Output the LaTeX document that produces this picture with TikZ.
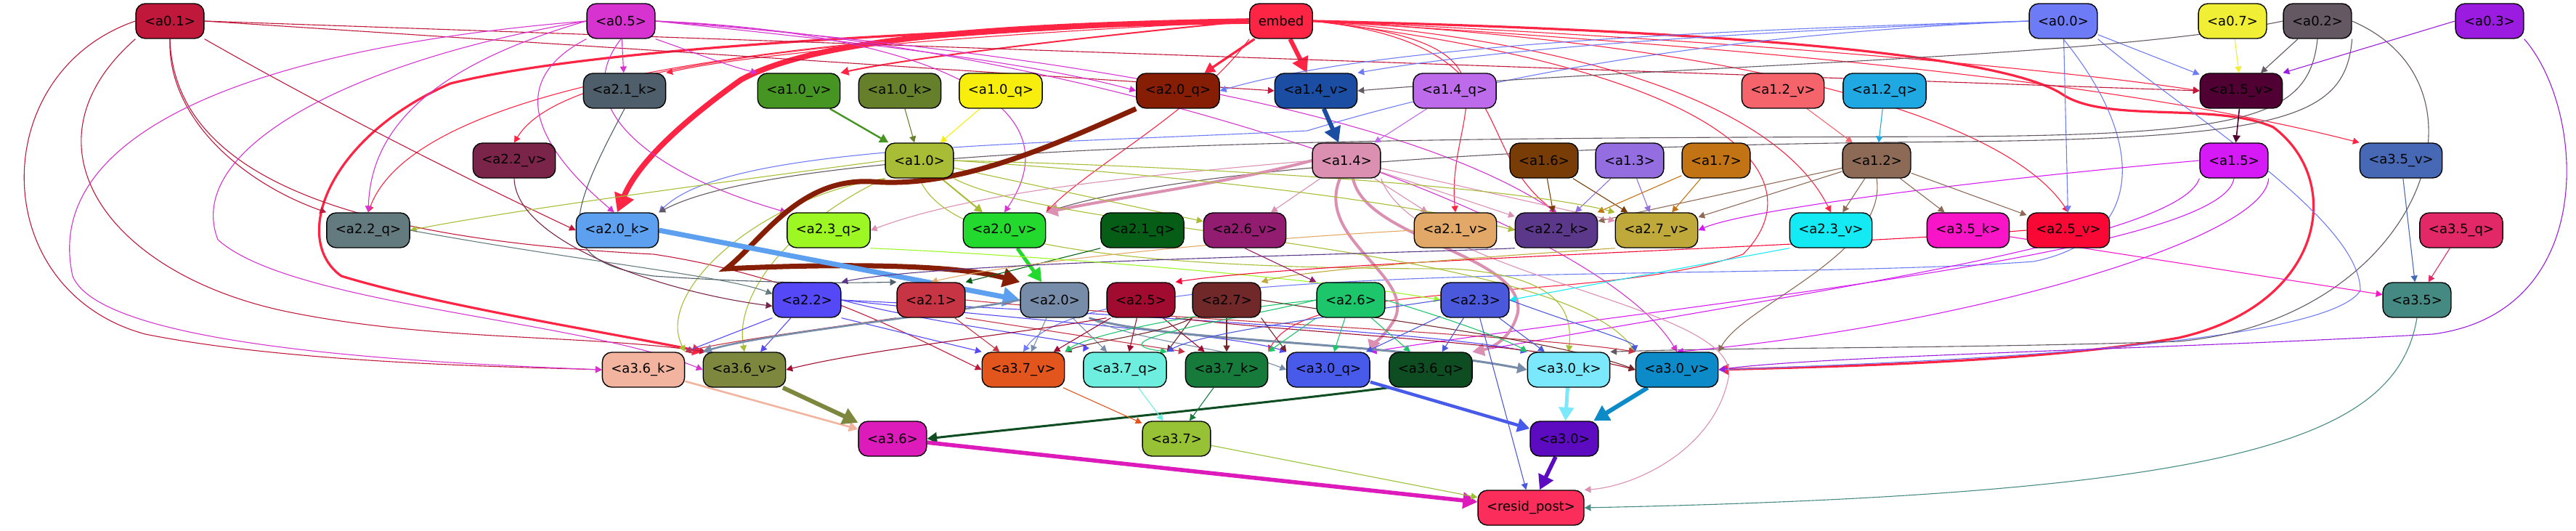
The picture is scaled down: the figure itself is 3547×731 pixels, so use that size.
\documentclass[tikz,border=0pt]{standalone}
\usepackage{fontspec}
\setmainfont{DejaVu Sans}
\usepackage{xcolor}
\usepackage{tikz}
\usetikzlibrary{arrows.meta, backgrounds}

\definecolor{ca01}{HTML}{C0183A}
\definecolor{ca05}{HTML}{D633D0}
\definecolor{cemb}{HTML}{FE2443}
\definecolor{ca00}{HTML}{6E7BF7}
\definecolor{ca07}{HTML}{F0EE35}
\definecolor{ca02}{HTML}{645862}
\definecolor{ca03}{HTML}{9B1BE0}
\definecolor{ca21k}{HTML}{4E5E6A}
\definecolor{ca10v}{HTML}{469522}
\definecolor{ca10k}{HTML}{667F2A}
\definecolor{ca10q}{HTML}{F7EE0E}
\definecolor{ca20q}{HTML}{861E05}
\definecolor{ca14v}{HTML}{1B4EA2}
\definecolor{ca14q}{HTML}{BE6BEB}
\definecolor{ca12v}{HTML}{F5646B}
\definecolor{ca12q}{HTML}{1FA8E2}
\definecolor{ca15v}{HTML}{510034}
\definecolor{ca22v}{HTML}{7B2449}
\definecolor{ca10}{HTML}{A8BD35}
\definecolor{ca14}{HTML}{DB8FB1}
\definecolor{ca16}{HTML}{783C06}
\definecolor{ca13}{HTML}{946EE1}
\definecolor{ca17}{HTML}{C27313}
\definecolor{ca12}{HTML}{8C6A55}
\definecolor{ca15}{HTML}{D51AF7}
\definecolor{ca35v}{HTML}{4768B5}
\definecolor{ca22q}{HTML}{637A7E}
\definecolor{ca20k}{HTML}{5DA0F0}
\definecolor{ca23q}{HTML}{9CF723}
\definecolor{ca20v}{HTML}{24D92D}
\definecolor{ca21q}{HTML}{065E16}
\definecolor{ca26v}{HTML}{921C6F}
\definecolor{ca21v}{HTML}{E2A867}
\definecolor{ca22k}{HTML}{5C388B}
\definecolor{ca27v}{HTML}{C0A93B}
\definecolor{ca23v}{HTML}{13EAF3}
\definecolor{ca35k}{HTML}{F815C8}
\definecolor{ca25v}{HTML}{F90835}
\definecolor{ca35q}{HTML}{E32868}
\definecolor{ca22}{HTML}{5549F7}
\definecolor{ca21}{HTML}{C73443}
\definecolor{ca20}{HTML}{778CA8}
\definecolor{ca25}{HTML}{A20B30}
\definecolor{ca27}{HTML}{712829}
\definecolor{ca26}{HTML}{1DC56B}
\definecolor{ca23}{HTML}{4A58DB}
\definecolor{ca35}{HTML}{458A82}
\definecolor{ca36k}{HTML}{F2B49F}
\definecolor{ca36v}{HTML}{7E873E}
\definecolor{ca37v}{HTML}{E2551D}
\definecolor{ca37q}{HTML}{6DEEDE}
\definecolor{ca37k}{HTML}{167A3B}
\definecolor{ca30q}{HTML}{475AEA}
\definecolor{ca36q}{HTML}{0D4D21}
\definecolor{ca30k}{HTML}{7BE8FB}
\definecolor{ca30v}{HTML}{0C8BC8}
\definecolor{ca36}{HTML}{DD1BBA}
\definecolor{ca37}{HTML}{98C235}
\definecolor{ca30}{HTML}{5D0BC0}
\definecolor{cres}{HTML}{FB2E5B}

\begin{document}
\begin{tikzpicture}[
  x=0.5pt, y=-0.5pt,
  feat/.style  = {rectangle, draw=black, line width=0.7pt, rounded corners=6.5pt, minimum height=24pt, inner xsep=6pt, inner ysep=2pt, font=\fontsize{9}{11}\selectfont, text=black},
  arrow/.style = {-{Triangle[length=3pt 2.5, width=3pt 2.8]}, line width=0.55pt}
]
\useasboundingbox (0,0) rectangle (3547,731);

%% ROW 0: inputs
\node[feat, fill=ca01] (a01) at (234,29)  {<a0.1>};
\node[feat, fill=ca05] (a05) at (855,29)  {<a0.5>};
\node[feat, fill=cemb] (emb) at (1764,29) {embed};
\node[feat, fill=ca00] (a00) at (2841,29) {<a0.0>};
\node[feat, fill=ca07] (a07) at (3074,29) {<a0.7>};
\node[feat, fill=ca02] (a02) at (3191,29) {<a0.2>};
\node[feat, fill=ca03] (a03) at (3428,29) {<a0.3>};

%% ROW 1
\node[feat, fill=ca21k] (a21k) at (860,125)  {<a2.1\_k>};
\node[feat, fill=ca10v] (a10v) at (1100,125) {<a1.0\_v>};
\node[feat, fill=ca10k] (a10k) at (1239,125) {<a1.0\_k>};
\node[feat, fill=ca10q] (a10q) at (1378,125) {<a1.0\_q>};
\node[feat, fill=ca20q] (a20q) at (1622,125) {<a2.0\_q>};
\node[feat, fill=ca14v] (a14v) at (1812,125) {<a1.4\_v>};
\node[feat, fill=ca14q] (a14q) at (2003,125) {<a1.4\_q>};
\node[feat, fill=ca12v] (a12v) at (2455,125) {<a1.2\_v>};
\node[feat, fill=ca12q] (a12q) at (2595,125) {<a1.2\_q>};
\node[feat, fill=ca15v] (a15v) at (3086,125) {<a1.5\_v>};

%% ROW 2
\node[feat, fill=ca22v] (a22v) at (708,221)  {<a2.2\_v>};
\node[feat, fill=ca10]  (a10)  at (1266,221) {<a1.0>};
\node[feat, fill=ca14]  (a14)  at (1854,221) {<a1.4>};
\node[feat, fill=ca16]  (a16)  at (2126,221) {<a1.6>};
\node[feat, fill=ca13]  (a13)  at (2244,221) {<a1.3>};
\node[feat, fill=ca17]  (a17)  at (2363,221) {<a1.7>};
\node[feat, fill=ca12]  (a12)  at (2584,221) {<a1.2>};
\node[feat, fill=ca15]  (a15)  at (3076,221) {<a1.5>};
\node[feat, fill=ca35v] (a35v) at (3306,221) {<a3.5\_v>};

%% ROW 3
\node[feat, fill=ca22q] (a22q) at (507,317)  {<a2.2\_q>};
\node[feat, fill=ca20k] (a20k) at (850,317)  {<a2.0\_k>};
\node[feat, fill=ca23q] (a23q) at (1141,317) {<a2.3\_q>};
\node[feat, fill=ca20v] (a20v) at (1383,317) {<a2.0\_v>};
\node[feat, fill=ca21q] (a21q) at (1573,317) {<a2.1\_q>};
\node[feat, fill=ca26v] (a26v) at (1714,317) {<a2.6\_v>};
\node[feat, fill=ca21v] (a21v) at (2004,317) {<a2.1\_v>};
\node[feat, fill=ca22k] (a22k) at (2143,317) {<a2.2\_k>};
\node[feat, fill=ca27v] (a27v) at (2281,317) {<a2.7\_v>};
\node[feat, fill=ca23v] (a23v) at (2521,317) {<a2.3\_v>};
\node[feat, fill=ca35k] (a35k) at (2710,317) {<a3.5\_k>};
\node[feat, fill=ca25v] (a25v) at (2848,317) {<a2.5\_v>};
\node[feat, fill=ca35q] (a35q) at (3389,317) {<a3.5\_q>};

%% ROW 4
\node[feat, fill=ca22] (a22) at (1111,413) {<a2.2>};
\node[feat, fill=ca21] (a21) at (1282,413) {<a2.1>};
\node[feat, fill=ca20] (a20) at (1452,413) {<a2.0>};
\node[feat, fill=ca25] (a25) at (1571,413) {<a2.5>};
\node[feat, fill=ca27] (a27) at (1689,413) {<a2.7>};
\node[feat, fill=ca26] (a26) at (1860,413) {<a2.6>};
\node[feat, fill=ca23] (a23) at (2031,413) {<a2.3>};
\node[feat, fill=ca35] (a35) at (3328,413) {<a3.5>};

%% ROW 5
\node[feat, fill=ca36k] (a36k) at (886,509)  {<a3.6\_k>};
\node[feat, fill=ca36v] (a36v) at (1025,509) {<a3.6\_v>};
\node[feat, fill=ca37v] (a37v) at (1409,509) {<a3.7\_v>};
\node[feat, fill=ca37q] (a37q) at (1549,509) {<a3.7\_q>};
\node[feat, fill=ca37k] (a37k) at (1689,509) {<a3.7\_k>};
\node[feat, fill=ca30q] (a30q) at (1829,509) {<a3.0\_q>};
\node[feat, fill=ca36q] (a36q) at (1970,509) {<a3.6\_q>};
\node[feat, fill=ca30k] (a30k) at (2160,509) {<a3.0\_k>};
\node[feat, fill=ca30v] (a30v) at (2309,509) {<a3.0\_v>};

%% ROW 6 / output
\node[feat, fill=ca36] (a36) at (1229,604) {<a3.6>};
\node[feat, fill=ca37] (a37) at (1620,604) {<a3.7>};
\node[feat, fill=ca30] (a30) at (2154,604) {<a3.0>};
\node[feat, fill=cres] (resid) at (2108,699) {<resid\_post>};

\begin{pgfonlayer}{background}
%% embed
\draw[arrow, cemb, line width=3pt] (emb) -- (a14v);
\draw[arrow, cemb, line width=1.6pt] (emb) -- (a20q);
\draw[arrow, cemb, line width=3.8pt] (emb.west) .. controls (1350,35) and (1120,55) .. (1020,110) .. controls (950,160) and (880,220) .. (a20k.north);
\draw[arrow, cemb, line width=1.6pt] (emb.west) .. controls (1200,45) and (800,70) .. (620,115) .. controls (450,190) and (400,330) .. (470,380) .. controls (600,420) and (850,460) .. (a36v.north west);
\draw[arrow, cemb, line width=1.6pt] (emb.east) .. controls (2300,40) and (2750,70) .. (2840,130) .. controls (2900,170) and (3050,140) .. (3130,175) .. controls (3230,250) and (3200,420) .. (3000,465) .. controls (2800,500) and (2500,505) .. (a30v.east);
\draw[arrow, cemb] (emb.east) .. controls (2300,50) and (2800,90) .. (a15v.west);
\draw[arrow, cemb] (emb.east) .. controls (2500,70) and (2950,120) .. (a35v.north west);
\draw[arrow, cemb] (emb.east) .. controls (2400,60) and (2760,160) .. (a25v.north);
\draw[arrow, cemb] (emb.east) .. controls (2200,60) and (2450,150) .. (a23v.north);
\draw[arrow, cemb] (emb.east) .. controls (2120,60) and (1990,150) .. (a21v.north);
\draw[arrow, cemb] (emb.east) .. controls (2100,60) and (2020,200) .. (a22k.north);
\draw[arrow, cemb, line width=1pt] (emb.west) .. controls (1500,50) and (1250,80) .. (a10v.north east);
\draw[arrow, cemb] (emb.west) .. controls (1400,45) and (1050,70) .. (a21k.north east);
\draw[arrow, cemb] (emb.west) .. controls (900,50) and (560,150) .. (a22q.north);
\draw[arrow, cemb] (emb.west) .. controls (1000,55) and (760,110) .. (a22v.north);
\draw[arrow, cemb] (emb.south west) .. controls (1650,150) and (1500,230) .. (a20v.north east);
\draw[arrow, cemb] (emb.east) .. controls (2400,100) and (2500,250) .. (2400,350) .. controls (2200,420) and (1800,380) .. (a37k.north east);

%% a0.1
\draw[arrow, ca01] (a01.east) -- (a15v.west);
\draw[arrow, ca01] (a01.east) -- (a14v.west);
\draw[arrow, ca01] (a01.south) .. controls (230,160) and (330,250) .. (a22q.north west);
\draw[arrow, ca01] (a01.south east) .. controls (450,150) and (650,250) .. (a20k.west);
\draw[arrow, ca01] (a01.west) .. controls (-20,100) and (-20,400) .. (200,460) .. controls (400,500) and (700,505) .. (a36k.west);
\draw[arrow, ca01] (a01.south west) .. controls (20,200) and (150,380) .. (400,430) .. controls (600,470) and (800,460) .. (a36v.155);
\draw[arrow, ca01] (a01.south) .. controls (240,250) and (500,330) .. (900,350) .. controls (1100,380) and (1250,460) .. (a37v.west);

%% a0.5
\draw[arrow, ca05] (a05) -- (a21k);
\draw[arrow, ca05] (a05.south west) .. controls (680,120) and (760,220) .. (a20k.100);
\draw[arrow, ca05] (a05.west) .. controls (560,100) and (510,200) .. (a22q.north);
\draw[arrow, ca05] (a05.west) .. controls (300,70) and (60,200) .. (100,380) .. controls (140,480) and (600,500) .. (a36k.west);
\draw[arrow, ca05] (a05.west) .. controls (500,80) and (250,200) .. (300,330) .. controls (400,420) and (800,440) .. (a36v.west);
\draw[arrow, ca05] (a05.south) .. controls (780,150) and (900,240) .. (a23q.north west);
\draw[arrow, ca05] (a05.east) .. controls (1100,50) and (1400,80) .. (a20q.west);
\draw[arrow, ca05] (a05.east) .. controls (1200,40) and (1500,120) .. (a20v.north);
\draw[arrow, ca05] (a05.south east) .. controls (950,70) and (1000,90) .. (a10v.north west);
\draw[arrow, ca05] (a05.east) .. controls (1300,60) and (1900,130) .. (a22k.north);
\draw[arrow, ca05] (a05.east) .. controls (1500,60) and (2200,300) .. (a30v.north);

%% a0.0
\draw[arrow, ca00] (a00.west) .. controls (2500,40) and (2100,60) .. (a14v.north east);
\draw[arrow, ca00] (a00.west) .. controls (2400,40) and (1900,60) .. (a20q.east);
\draw[arrow, ca00] (a00) -- (a15v);
\draw[arrow, ca00] (a00) -- (a25v);
\draw[arrow, ca00] (a00.west) .. controls (2300,50) and (2000,120) .. (1800,180) .. controls (1400,200) and (1000,200) .. (a20k.north east);
\draw[arrow, ca00] (a00.south east) .. controls (3000,150) and (3250,300) .. (3250,400) .. controls (3200,480) and (2600,500) .. (a30v.east);
\draw[arrow, ca00] (a00.south) .. controls (2960,200) and (2950,330) .. (2800,360) .. controls (2400,390) and (1500,350) .. (a37v.north);

%% a0.2, a0.3, a0.7
\draw[arrow, ca02] (a02) -- (a15v);
\draw[arrow, ca02] (a02.west) .. controls (2900,80) and (2300,90) .. (a14v.east);
\draw[arrow, ca02] (a02.south) .. controls (3180,160) and (3100,185) .. (2700,188) .. controls (2000,190) and (1100,190) .. (a20k.north east);
\draw[arrow, ca02] (a02.south east) .. controls (3230,160) and (3150,190) .. (2700,195) .. controls (2000,200) and (1600,240) .. (a20v.north east);
\draw[arrow, ca02] (a02.east) .. controls (3450,120) and (3330,440) .. (3000,470) .. controls (2700,480) and (2400,478) .. (a30k.north east);
\draw[arrow, ca03] (a03.west) -- (a15v.north east);
\draw[arrow, ca03] (a03.south east) .. controls (3560,150) and (3580,430) .. (3350,460) .. controls (3000,480) and (2500,490) .. (a30v.east);
\draw[arrow, ca07] (a07) -- (a15v);

%% layer 1
\draw[arrow, ca15v, line width=0.8pt] (a15v) -- (a15);
\draw[arrow, ca15] (a15.west) .. controls (2700,250) and (2400,290) .. (a27v.east);
\draw[arrow, ca15] (a15.south west) .. controls (3000,330) and (2500,400) .. (a36q.north east);
\draw[arrow, ca15] (a15.south) .. controls (3060,350) and (2300,420) .. (a30q.north east);
\draw[arrow, ca15] (a15.south east) .. controls (3120,330) and (2700,450) .. (a30v.north);
\draw[arrow, ca12v] (a12v) -- (a12);
\draw[arrow, ca12q] (a12q) -- (a12);
\draw[arrow, ca12] (a12) -- (a23v);
\draw[arrow, ca12] (a12) -- (a25v);
\draw[arrow, ca12] (a12) -- (a35k);
\draw[arrow, ca12] (a12) -- (a27v);
\draw[arrow, ca12] (a12) -- (a22k);
\draw[arrow, ca12] (a12.south) .. controls (2600,350) and (2400,420) .. (a30v.north east);
\draw[arrow, ca14q] (a14q) -- (a14);
\draw[arrow, ca14v, line width=3pt] (a14v) -- (a14);
\draw[arrow, ca14] (a14) -- (a21v);
\draw[arrow, ca14] (a14) -- (a22k);
\draw[arrow, ca14] (a14) -- (a27v);
\draw[arrow, ca14] (a14) -- (a26v);
\draw[arrow, ca14, line width=2pt] (a14.west) .. controls (1700,250) and (1550,270) .. (a20v.north east);
\draw[arrow, ca14] (a14.west) .. controls (1600,240) and (1350,260) .. (a23q.east);
\draw[arrow, ca14, line width=2pt] (a14.250) .. controls (1810,330) and (1950,380) .. (1920,440) .. controls (1905,465) and (1890,475) .. (a30q.north east);
\draw[arrow, ca14, line width=2pt] (a14.290) .. controls (1880,330) and (2100,350) .. (2090,430) .. controls (2080,470) and (2050,480) .. (a36q.north east);
\draw[arrow, ca14] (a14.south east) .. controls (1950,380) and (2400,420) .. (2380,520) .. controls (2360,620) and (2250,670) .. (resid.north east);
\draw[arrow, ca16] (a16) -- (a22k);
\draw[arrow, ca16] (a16) -- (a27v);
\draw[arrow, ca13] (a13) -- (a22k);
\draw[arrow, ca13] (a13) -- (a27v);
\draw[arrow, ca17] (a17) -- (a22k);
\draw[arrow, ca17] (a17) -- (a27v);
\draw[arrow, ca10v, line width=1.2pt] (a10v) -- (a10);
\draw[arrow, ca10k] (a10k) -- (a10);
\draw[arrow, ca10q] (a10q) -- (a10);
\draw[arrow, ca10, line width=1pt] (a10) -- (a20v);
\draw[arrow, ca10] (a10) -- (a26v);
\draw[arrow, ca10] (a10.west) .. controls (1000,250) and (700,290) .. (a22q.east);
\draw[arrow, ca10] (a10.east) .. controls (1600,240) and (1900,270) .. (a22k.west);
\draw[arrow, ca10] (a10.east) .. controls (1700,230) and (2100,260) .. (a27v.north west);
\draw[arrow, ca10] (a10.south west) .. controls (1100,300) and (1010,400) .. (a36v.north);
\draw[arrow, ca10] (a10.south west) .. controls (1050,270) and (900,400) .. (a36k.north east);
\draw[arrow, ca10] (a10.south) .. controls (1300,330) and (1500,370) .. (2000,370) .. controls (2150,380) and (2165,430) .. (a30k.north);
\draw[arrow, ca10] (a10.south east) .. controls (1450,320) and (2150,340) .. (a30v.north west);

%% layer 2 inputs
\draw[arrow, ca20q, line width=3.5pt] (a20q.south west) .. controls (1450,200) and (1320,260) .. (1200,250) .. controls (1100,245) and (1050,330) .. (1000,370) .. controls (1100,365) and (1300,360) .. (a20.north west);
\draw[arrow, ca20k, line width=3.5pt] (a20k.east) -- (a20.west);
\draw[arrow, ca20v, line width=2.5pt] (a20v) -- (a20);
\draw[arrow, ca21q] (a21q.south west) -- (a21.north east);
\draw[arrow, ca21k] (a21k.south) .. controls (780,300) and (760,360) .. (900,380) .. controls (1050,390) and (1150,390) .. (a21.north west);
\draw[arrow, ca21v] (a21v.west) .. controls (1700,330) and (1400,360) .. (a21.north);
\draw[arrow, ca22q] (a22q.east) .. controls (800,360) and (1000,380) .. (a22.170);
\draw[arrow, ca22v] (a22v.south) .. controls (710,330) and (900,400) .. (a22.190);
\draw[arrow, ca22k] (a22k.south west) .. controls (1900,350) and (1300,360) .. (a22.north east);
\draw[arrow, ca23q] (a23q.south east) .. controls (1400,350) and (1800,380) .. (a23.west);
\draw[arrow, ca23v] (a23v.south west) -- (a23.east);
\draw[arrow, ca25v] (a25v.west) .. controls (2500,340) and (1800,360) .. (a25.north east);
\draw[arrow, ca27v] (a27v.south west) .. controls (2100,350) and (1800,370) .. (a27.north east);
\draw[arrow, ca26v] (a26v.south) -- (a26.north west);
\draw[arrow, ca35v] (a35v) -- (a35);
\draw[arrow, ca35q] (a35q) -- (a35);
\draw[arrow, ca35k] (a35k) -- (a35);

%% layer 2 to layer 3
\draw[arrow, ca22] (a22) -- (a36v);
\draw[arrow, ca22] (a22.south west) -- (a36k.north east);
\draw[arrow, ca22] (a22.south east) -- (a37v.north west);
\draw[arrow, ca22] (a22.east) .. controls (1300,450) and (1500,470) .. (a37q.north west);
\draw[arrow, ca22] (a22.east) .. controls (1400,440) and (1700,460) .. (a30q.north west);
\draw[arrow, ca22] (a22.east) .. controls (1500,430) and (2000,460) .. (a30k.north west);
\draw[arrow, ca21] (a21) -- (a37v);
\draw[arrow, ca21] (a21.south west) .. controls (1150,450) and (1000,470) .. (a36k.north east);
\draw[arrow, ca21] (a21.south east) -- (a37k.north west);
\draw[arrow, ca21] (a21.east) .. controls (1600,440) and (2100,460) .. (a30v.north west);
\draw[arrow, ca20, line width=1.3pt] (a20.west) .. controls (1250,440) and (1050,460) .. (a36v.north west);
\draw[arrow, ca20] (a20) -- (a37v);
\draw[arrow, ca20] (a20) -- (a37q);
\draw[arrow, ca20, line width=1.5pt] (a20.south east) .. controls (1600,470) and (1900,470) .. (a30k.west);
\draw[arrow, ca20] (a20.south east) .. controls (1560,470) and (1700,480) .. (a30q.west);
\draw[arrow, ca25] (a25.south west) .. controls (1400,460) and (1200,480) .. (a36v.east);
\draw[arrow, ca25] (a25) -- (a37v);
\draw[arrow, ca25] (a25) -- (a37q);
\draw[arrow, ca25] (a25) -- (a37k);
\draw[arrow, ca25] (a25.south east) .. controls (1800,460) and (2100,470) .. (a30v.west);
\draw[arrow, ca27] (a27) -- (a37k);
\draw[arrow, ca27] (a27.south west) -- (a37q.north east);
\draw[arrow, ca27] (a27.south west) .. controls (1600,460) and (1500,470) .. (a37v.north east);
\draw[arrow, ca27] (a27.south east) -- (a30q.north west);
\draw[arrow, ca27] (a27.east) .. controls (1900,440) and (2150,470) .. (a30v.west);
\draw[arrow, ca26] (a26) -- (a30q);
\draw[arrow, ca26] (a26) -- (a36q);
\draw[arrow, ca26] (a26.east) .. controls (2000,440) and (2080,470) .. (a30k.north west);
\draw[arrow, ca26] (a26.south west) -- (a37k.north east);
\draw[arrow, ca26] (a26.west) .. controls (1700,440) and (1500,470) .. (a37q.north east);
\draw[arrow, ca26] (a26.west) .. controls (1650,430) and (1500,460) .. (a37v.north east);
\draw[arrow, ca23] (a23) -- (a30q);
\draw[arrow, ca23] (a23) -- (a36q);
\draw[arrow, ca23] (a23) -- (a30k);
\draw[arrow, ca23] (a23.east) .. controls (2150,440) and (2250,470) .. (a30v.north west);
\draw[arrow, ca23] (a23) -- (resid);
\draw[arrow, ca23] (a23.west) .. controls (1800,440) and (1650,460) .. (a37q.north east);

%% layer 3 to output
\draw[arrow, ca36k, line width=1.3pt] (a36k) -- (a36);
\draw[arrow, ca36v, line width=3pt] (a36v) -- (a36);
\draw[arrow, ca36q, line width=1.5pt] (a36q.south west) .. controls (1700,560) and (1400,590) .. (a36.east);
\draw[arrow, ca37v] (a37v) -- (a37);
\draw[arrow, ca37q] (a37q) -- (a37);
\draw[arrow, ca37k] (a37k) -- (a37);
\draw[arrow, ca30q, line width=2.2pt] (a30q) -- (a30);
\draw[arrow, ca30k, line width=2.5pt] (a30k) -- (a30);
\draw[arrow, ca30v, line width=3pt] (a30v) -- (a30);
\draw[arrow, ca36, line width=2.8pt] (a36) -- (resid);
\draw[arrow, ca37] (a37) -- (resid);
\draw[arrow, ca30, line width=2.8pt] (a30) -- (resid);
\draw[arrow, ca35] (a35.south) .. controls (3300,600) and (3100,680) .. (resid.east);
\end{pgfonlayer}
\end{tikzpicture}
\end{document}
